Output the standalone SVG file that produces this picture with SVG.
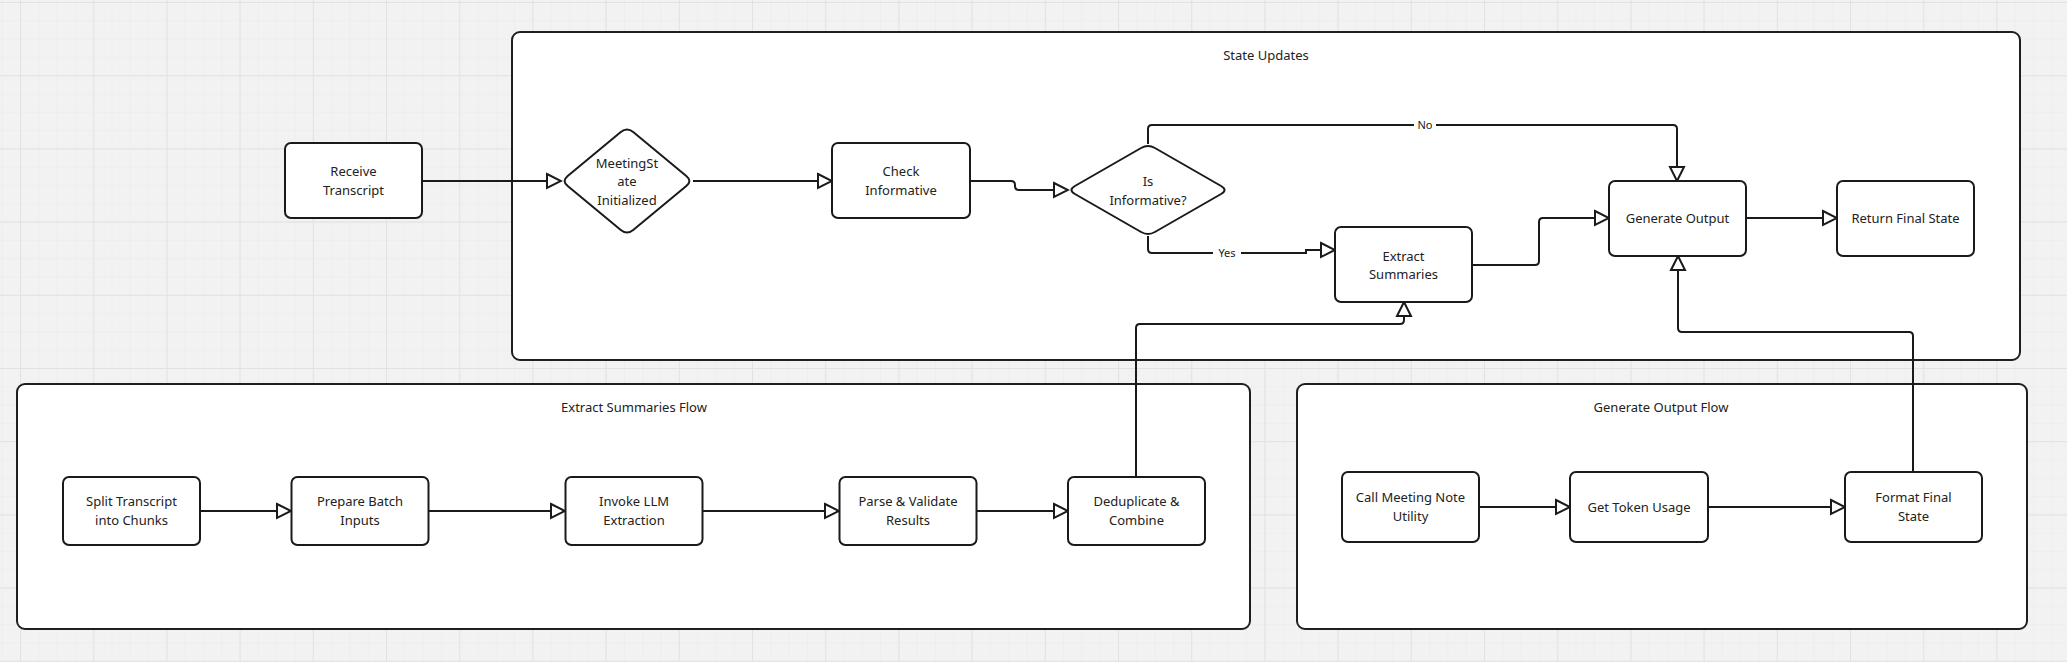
<svg xmlns="http://www.w3.org/2000/svg" width="2067" height="662" viewBox="0 0 2067 662">
<style>
.cont{fill:#ffffff;stroke:#1f1f1f;stroke-width:2}
.box{fill:#ffffff;stroke:#1a1a1a;stroke-width:2}
.t{font-family:"Noto Sans","Open Sans",sans-serif;font-size:13px;fill:#222;text-anchor:middle}
.lbl{font-family:"Noto Sans","Open Sans",sans-serif;font-size:11px;fill:#222;text-anchor:middle}
.c{fill:none;stroke:#1a1a1a;stroke-width:2;marker-end:url(#arr)}
</style>
<defs>
<pattern id="minor" x="20" y="2" width="18.3" height="18.3" patternUnits="userSpaceOnUse">
<path d="M0,0 V18.3 M0,0 H18.3" stroke="#e9e9e9" stroke-width="1" fill="none"/>
</pattern>
<pattern id="major" x="20" y="2" width="73.2" height="73.2" patternUnits="userSpaceOnUse">
<path d="M0,0 V73.2 M0,0 H73.2" stroke="#e2e2e2" stroke-width="2" fill="none"/>
</pattern>
<marker id="arr" markerUnits="userSpaceOnUse" markerWidth="18" markerHeight="18" viewBox="-2 -2 18 18" refX="14" refY="7" orient="auto">
<path d="M0,0 L14,7 L0,14 Z" fill="#ffffff" stroke="#1a1a1a" stroke-width="2" stroke-linejoin="miter"/>
</marker>
</defs>
<rect x="0" y="0" width="2067" height="662" fill="#f2f2f2"/>
<rect x="0" y="0" width="2067" height="662" fill="url(#minor)"/>
<rect x="0" y="0" width="2067" height="662" fill="url(#major)"/>

<g id="containers">
<g id="state-updates">
<rect class="cont" x="512" y="32" width="1508" height="328" rx="8"/>
<text class="t" x="1266" y="60">State Updates</text>
</g>
<g id="extract-summaries-flow">
<rect class="cont" x="17" y="384" width="1233" height="245" rx="8"/>
<text class="t" x="634" y="412">Extract Summaries Flow</text>
</g>
<g id="generate-output-flow">
<rect class="cont" x="1297" y="384" width="730" height="245" rx="8"/>
<text class="t" x="1661" y="412">Generate Output Flow</text>
</g>
</g>

<g id="connectors">
<path class="c" d="M422,181 H561"/>
<path class="c" d="M693,181 H832"/>
<path class="c" d="M970,181 H1011 Q1015,181 1015,185 V186 Q1015,190 1019,190 H1068"/>
<path class="c" d="M1148,144 V129 Q1148,125 1152,125 H1673 Q1677,125 1677,129 V181"/>
<path class="c" d="M1148,236 V249 Q1148,253 1152,253 H1306 V250 H1335"/>
<path class="c" d="M1472,265 H1535 Q1539,265 1539,261 V222 Q1539,218 1543,218 H1609"/>
<path class="c" d="M1746,218 H1837"/>
<path class="c" d="M1136,477 V328 Q1136,324 1140,324 H1400 Q1404,324 1404,320 V302"/>
<path class="c" d="M1913,471 V336 Q1913,332 1909,332 H1682 Q1678,332 1678,328 V256"/>
<path class="c" d="M200,511 H291"/>
<path class="c" d="M429,511 H565"/>
<path class="c" d="M702,511 H839"/>
<path class="c" d="M976,511 H1068"/>
<path class="c" d="M1479,507 H1570"/>
<path class="c" d="M1708,507 H1845"/>
<rect x="1414" y="117" width="22" height="16" fill="#ffffff"/>
<text class="lbl" x="1425" y="129">No</text>
<rect x="1213" y="245" width="28" height="16" fill="#ffffff"/>
<text class="lbl" x="1227" y="257">Yes</text>
</g>

<g id="receive-transcript">
<rect class="box" x="285" y="143" width="137" height="75" rx="6"/>
<text class="t" x="353.5" y="176">Receive</text>
<text class="t" x="353.5" y="195">Transcript</text>
</g>
<g id="meetingstate-initialized">
<path class="box" d="M567.7,175.9 L620.8,132.1 Q627,127 633.2,132.1 L686.3,175.9 Q692.5,181 686.3,186.1 L633.2,229.9 Q627,235 620.8,229.9 L567.7,186.1 Q561.5,181 567.7,175.9 Z"/>
<text class="t" x="627" y="167.5">MeetingSt</text>
<text class="t" x="627" y="186">ate</text>
<text class="t" x="627" y="204.5">Initialized</text>
</g>
<g id="check-informative">
<rect class="box" x="832" y="143" width="138" height="75" rx="6"/>
<text class="t" x="901" y="176">Check</text>
<text class="t" x="901" y="195">Informative</text>
</g>
<g id="is-informative">
<path class="box" d="M1074.9,186 L1141.1,148 Q1148,144 1154.9,148 L1221.1,186 Q1228,190 1221.1,194 L1154.9,232 Q1148,236 1141.1,232 L1074.9,194 Q1068,190 1074.9,186 Z"/>
<text class="t" x="1148" y="186">Is</text>
<text class="t" x="1148" y="204.5">Informative?</text>
</g>
<g id="extract-summaries">
<rect class="box" x="1335" y="227" width="137" height="75" rx="6"/>
<text class="t" x="1403.5" y="260.5">Extract</text>
<text class="t" x="1403.5" y="278.5">Summaries</text>
</g>
<g id="generate-output">
<rect class="box" x="1609" y="181" width="137" height="75" rx="6"/>
<text class="t" x="1677.5" y="222.5">Generate Output</text>
</g>
<g id="return-final-state">
<rect class="box" x="1837" y="181" width="137" height="75" rx="6"/>
<text class="t" x="1905.5" y="222.5">Return Final State</text>
</g>
<g id="split-transcript">
<rect class="box" x="63" y="477" width="137" height="68" rx="6"/>
<text class="t" x="131.5" y="506">Split Transcript</text>
<text class="t" x="131.5" y="524.5">into Chunks</text>
</g>
<g id="prepare-batch">
<rect class="box" x="291.5" y="477" width="137" height="68" rx="6"/>
<text class="t" x="360" y="506">Prepare Batch</text>
<text class="t" x="360" y="524.5">Inputs</text>
</g>
<g id="invoke-llm">
<rect class="box" x="565.5" y="477" width="137" height="68" rx="6"/>
<text class="t" x="634" y="506">Invoke LLM</text>
<text class="t" x="634" y="524.5">Extraction</text>
</g>
<g id="parse-validate">
<rect class="box" x="839.5" y="477" width="137" height="68" rx="6"/>
<text class="t" x="908" y="506">Parse &amp; Validate</text>
<text class="t" x="908" y="524.5">Results</text>
</g>
<g id="deduplicate-combine">
<rect class="box" x="1068" y="477" width="137" height="68" rx="6"/>
<text class="t" x="1136.5" y="506">Deduplicate &amp;</text>
<text class="t" x="1136.5" y="524.5">Combine</text>
</g>
<g id="call-meeting-note">
<rect class="box" x="1342" y="472" width="137" height="70" rx="6"/>
<text class="t" x="1410.5" y="502">Call Meeting Note</text>
<text class="t" x="1410.5" y="520.5">Utility</text>
</g>
<g id="get-token-usage">
<rect class="box" x="1570" y="472" width="138" height="70" rx="6"/>
<text class="t" x="1639" y="511.5">Get Token Usage</text>
</g>
<g id="format-final-state">
<rect class="box" x="1845" y="472" width="137" height="70" rx="6"/>
<text class="t" x="1913.5" y="502">Format Final</text>
<text class="t" x="1913.5" y="520.5">State</text>
</g>
</svg>
